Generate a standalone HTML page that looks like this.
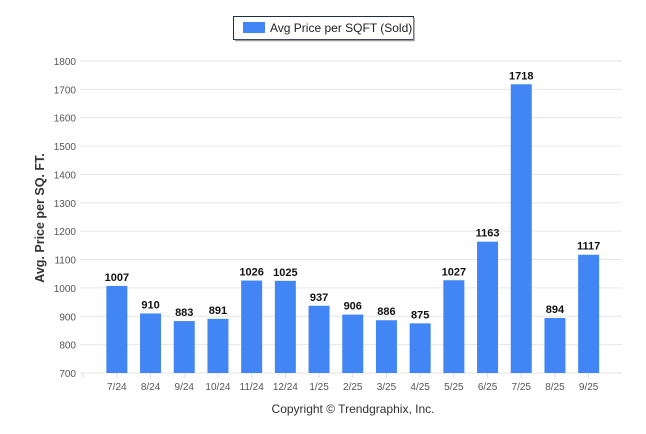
<!DOCTYPE html>
<html><head><meta charset="utf-8"><style>
body{margin:0;background:#fff;}
svg{display:block;font-family:"Liberation Sans",Arial,sans-serif;}
</style></head><body>
<svg id="c" width="646" height="434">
<g>
<rect x="233.5" y="16.5" width="180" height="23" fill="#fff" stroke="#1f2d4d" stroke-width="1"/>
<line x1="414" y1="18" x2="414" y2="41" stroke="#999" stroke-width="1.5"/>
<line x1="235" y1="40.5" x2="414" y2="40.5" stroke="#999" stroke-width="1.5"/>
<rect x="243" y="22" width="22" height="11" fill="#4285f4"/>
<text x="270" y="32" font-size="12" fill="#222">Avg Price per SQFT (Sold)</text>
</g>
<text transform="translate(44,218) rotate(-90)" text-anchor="middle" font-size="12.5" font-weight="bold" fill="#333">Avg. Price per SQ. FT.</text>
<text x="353" y="413" text-anchor="middle" font-size="12" fill="#333">Copyright © Trendgraphix, Inc.</text>
<g id="grid"></g><g id="bars"></g>
</svg>
<script>
const categories=["7/24","8/24","9/24","10/24","11/24","12/24","1/25","2/25","3/25","4/25","5/25","6/25","7/25","8/25","9/25"];
const values=[1007,910,883,891,1026,1025,937,906,886,875,1027,1163,1718,894,1117];
const yTicks=[700,800,900,1000,1100,1200,1300,1400,1500,1600,1700,1800];
const NS="http://www.w3.org/2000/svg";
const yMin=700,yMax=1800,yTop=61,yBot=373;
const y=v=>yBot-(v-yMin)/(yMax-yMin)*(yBot-yTop);
const x0=100,band=33.7;
const xc=i=>x0+band*(i+0.5);
function mk(t,a,p){const e=document.createElementNS(NS,t);for(const k in a)e.setAttribute(k,a[k]);p.appendChild(e);return e;}
const g=document.getElementById('grid'),b=document.getElementById('bars');
yTicks.forEach(v=>{
 const l=mk('line',{x1:80,x2:622,y1:y(v),y2:y(v),stroke:'#e6e6e6','stroke-width':1},g);
 
 
 const t=mk('text',{x:76,y:y(v)+4,'text-anchor':'end','font-size':'10',fill:'#555'},g);t.textContent=v;
 
 
});
mk('line',{x1:83,x2:83,y1:373,y2:378,stroke:'#ddd'},g);
categories.forEach((c,i)=>{
 const r=mk('rect',{x:xc(i)-10.5,y:y(values[i]),width:21,height:yBot-y(values[i]),fill:'#4285f4'},b);
 
 
 const v=mk('text',{x:xc(i),y:y(values[i])-5,'text-anchor':'middle','font-size':'11','font-weight':'bold',fill:'#111'},b);v.textContent=values[i];
 
 
 mk('line',{x1:xc(i),x2:xc(i),y1:373,y2:378,stroke:'#ddd'},g);
 const t=mk('text',{x:xc(i),y:390,'text-anchor':'middle','font-size':'10',fill:'#555'},b);t.textContent=c;
 
 
});
</script>
</body></html>
